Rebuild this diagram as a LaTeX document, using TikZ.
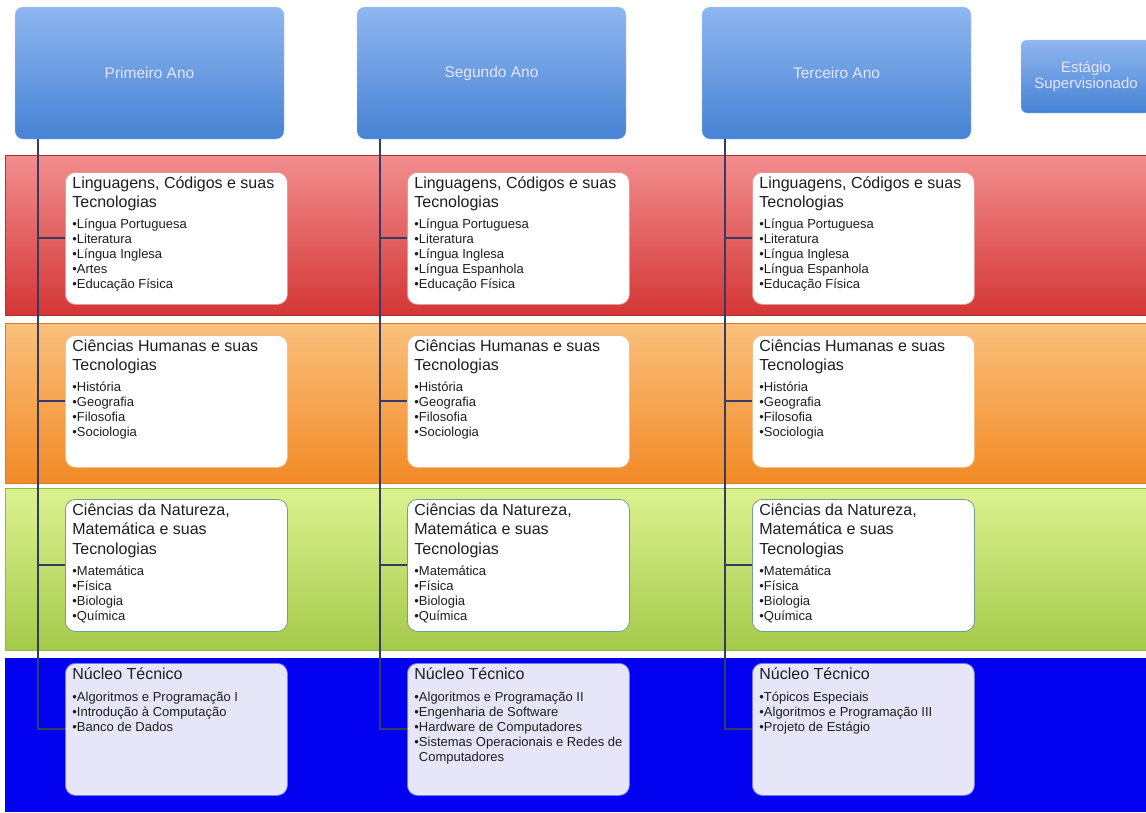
\documentclass[tikz,border=0pt]{standalone}
\usepackage{fontspec}
\setmainfont{Liberation Sans}
\definecolor{anoTopo}{RGB}{143,183,240}
\definecolor{anoBase}{RGB}{70,130,212}
\definecolor{anoBorda}{RGB}{175,205,238}
\definecolor{traco}{RGB}{50,60,100}
\definecolor{vermTopo}{RGB}{243,142,142}
\definecolor{vermBase}{RGB}{212,54,54}
\definecolor{laraTopo}{RGB}{250,192,124}
\definecolor{laraBase}{RGB}{242,138,38}
\definecolor{verdeTopo}{RGB}{220,242,144}
\definecolor{verdeBase}{RGB}{164,202,74}
\definecolor{azulFaixa}{RGB}{2,2,240}
\definecolor{bordaVerm}{RGB}{232,150,150}
\definecolor{bordaLara}{RGB}{240,190,140}
\definecolor{bordaVerde}{RGB}{110,162,142}
\definecolor{bordaAzul}{RGB}{120,120,232}
\definecolor{fundoAzul}{RGB}{230,230,248}
\definecolor{texto}{RGB}{30,30,30}
\tikzstyle{ano}=[rounded corners=8pt,draw=anoBorda,top color=anoTopo,bottom color=anoBase,text=white!90!blue,minimum width=269pt,minimum height=132pt,align=center,font=\fontsize{15.5}{17}\selectfont]
\tikzstyle{faixa}=[line width=0.8pt]
\tikzstyle{caixa}=[anchor=north west,rounded corners=10pt,fill=white,line width=0.8pt,inner xsep=7pt,inner ysep=2pt,text=texto]
\tikzstyle{conector}=[draw=traco,line width=2pt]
\newcommand{\bloco}[2]{%
  \begin{minipage}[t][128pt][t]{208pt}\raggedright
    {\fontsize{16}{19.5}\selectfont\strut #1\par}
    \vspace{6pt}
    {\fontsize{13}{15}\selectfont #2\par}
  \end{minipage}}

\begin{document}
\begin{tikzpicture}[x=1pt,y=-1pt]
  \useasboundingbox[fill=white] (0,0) rectangle (1146,812);

  % faixas por area
  \draw[faixa,draw=vermBase!85!black,top color=vermTopo,bottom color=vermBase] (5,155) rectangle (1152,315);
  \draw[faixa,draw=laraBase!90!black,top color=laraTopo,bottom color=laraBase] (5,323) rectangle (1152,483);
  \draw[faixa,draw=verdeBase!90!black,top color=verdeTopo,bottom color=verdeBase] (5,488) rectangle (1152,650);
  \fill[azulFaixa] (5,658) rectangle (1152,812);

  \node[ano,minimum width=130pt,minimum height=73pt,rounded corners=6pt,font=\fontsize{15}{16.5}\selectfont] (estagio) at (1086,76.5) {Estágio\\Supervisionado};

  \begin{scope}
    \node[ano] (ano1) at (149.5,73) {Primeiro Ano};
    \coordinate (tronco1) at ([xshift=23pt]ano1.south west);
    \node[caixa,draw=bordaVerm] (ling1) at (65,172) {\bloco{Linguagens, Códigos e suas\\Tecnologias}{•Língua Portuguesa\\•Literatura\\•Língua Inglesa\\•Artes\\•Educação Física}};
    \node[caixa,draw=bordaLara] (hum1) at (65,335) {\bloco{Ciências Humanas e suas\\Tecnologias}{•História\\•Geografia\\•Filosofia\\•Sociologia}};
    \node[caixa,draw=bordaVerde] (nat1) at (65,499) {\bloco{Ciências da Natureza,\\Matemática e suas\\Tecnologias}{•Matemática\\•Física\\•Biologia\\•Química}};
    \node[caixa,draw=bordaAzul,fill=fundoAzul] (nuc1) at (65,663) {\bloco{Núcleo Técnico}{•Algoritmos e Programação I\\•Introdução à Computação\\•Banco de Dados}};
    \draw[conector] (tronco1) |- (nuc1.west);
    \draw[conector] (tronco1 |- ling1.west) -- (ling1.west);
    \draw[conector] (tronco1 |- hum1.west) -- (hum1.west);
    \draw[conector] (tronco1 |- nat1.west) -- (nat1.west);
  \end{scope}

  \begin{scope}[xshift=342]
    \node[ano] (ano2) at (149.5,73) {Segundo Ano};
    \coordinate (tronco2) at ([xshift=23pt]ano2.south west);
    \node[caixa,draw=bordaVerm] (ling2) at (65,172) {\bloco{Linguagens, Códigos e suas\\Tecnologias}{•Língua Portuguesa\\•Literatura\\•Língua Inglesa\\•Língua Espanhola\\•Educação Física}};
    \node[caixa,draw=bordaLara] (hum2) at (65,335) {\bloco{Ciências Humanas e suas\\Tecnologias}{•História\\•Geografia\\•Filosofia\\•Sociologia}};
    \node[caixa,draw=bordaVerde] (nat2) at (65,499) {\bloco{Ciências da Natureza,\\Matemática e suas\\Tecnologias}{•Matemática\\•Física\\•Biologia\\•Química}};
    \node[caixa,draw=bordaAzul,fill=fundoAzul] (nuc2) at (65,663) {\bloco{Núcleo Técnico}{•Algoritmos e Programação II\\•Engenharia de Software\\•Hardware de Computadores\\•Sistemas Operacionais e Redes de\\\phantom{•}Computadores}};
    \draw[conector] (tronco2) |- (nuc2.west);
    \draw[conector] (tronco2 |- ling2.west) -- (ling2.west);
    \draw[conector] (tronco2 |- hum2.west) -- (hum2.west);
    \draw[conector] (tronco2 |- nat2.west) -- (nat2.west);
  \end{scope}

  \begin{scope}[xshift=687]
    \node[ano] (ano3) at (149.5,73) {Terceiro Ano};
    \coordinate (tronco3) at ([xshift=23pt]ano3.south west);
    \node[caixa,draw=bordaVerm] (ling3) at (65,172) {\bloco{Linguagens, Códigos e suas\\Tecnologias}{•Língua Portuguesa\\•Literatura\\•Língua Inglesa\\•Língua Espanhola\\•Educação Física}};
    \node[caixa,draw=bordaLara] (hum3) at (65,335) {\bloco{Ciências Humanas e suas\\Tecnologias}{•História\\•Geografia\\•Filosofia\\•Sociologia}};
    \node[caixa,draw=bordaVerde] (nat3) at (65,499) {\bloco{Ciências da Natureza,\\Matemática e suas\\Tecnologias}{•Matemática\\•Física\\•Biologia\\•Química}};
    \node[caixa,draw=bordaAzul,fill=fundoAzul] (nuc3) at (65,663) {\bloco{Núcleo Técnico}{•Tópicos Especiais\\•Algoritmos e Programação III\\•Projeto de Estágio}};
    \draw[conector] (tronco3) |- (nuc3.west);
    \draw[conector] (tronco3 |- ling3.west) -- (ling3.west);
    \draw[conector] (tronco3 |- hum3.west) -- (hum3.west);
    \draw[conector] (tronco3 |- nat3.west) -- (nat3.west);
  \end{scope}
\end{tikzpicture}
\end{document}
